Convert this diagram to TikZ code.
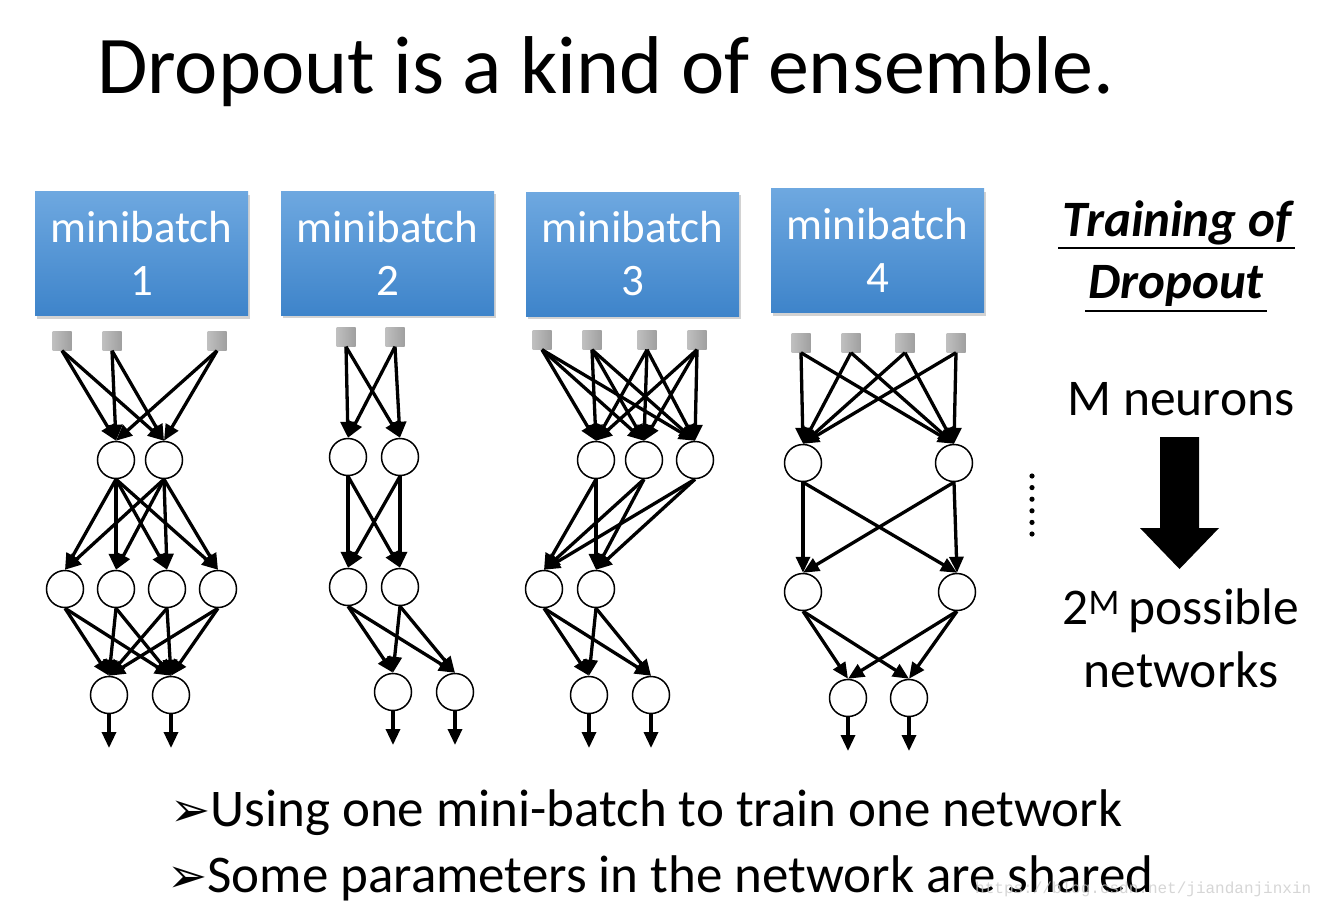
\documentclass[tikz,border=0pt]{standalone}
\usepackage{fontspec}
\setmainfont{Carlito}
\newfontfamily\dejavu{DejaVu Sans}
\newfontfamily\wmfont{Liberation Mono}
\usetikzlibrary{arrows.meta,shadows}
\definecolor{mbtop}{RGB}{110,168,224}
\definecolor{mbbottom}{RGB}{62,132,202}

\begin{document}
\begin{tikzpicture}[x=1pt, y=-1pt,
    mbox/.style={rectangle, top color=mbtop, bottom color=mbbottom, draw=none,
                 minimum width=213pt, minimum height=124pt, text=white, align=center,
                 font=\fontsize{45}{53}\selectfont,
                 drop shadow={opacity=0.35, shadow xshift=2pt, shadow yshift=-3pt}},
    inpt/.style={rectangle, minimum size=19pt, inner sep=0pt,
                 left color=gray!50, right color=gray!75},
    neuron/.style={circle, draw, line width=1.5pt, fill=white,
                   minimum size=37pt, inner sep=0pt},
    link/.style={line width=3.3pt, -{Triangle[length=16pt,width=14pt]}},
    bigtxt/.style={anchor=base, inner sep=0pt, font=\fontsize{51.5}{60}\selectfont},
    bul/.style={anchor=base west, inner sep=0pt, font=\fontsize{53}{62}\selectfont}]
\useasboundingbox[fill=white] (0,0) rectangle (1323,908);
% title
\node[anchor=base west, inner sep=0pt, font=\fontsize{82}{97}\selectfont] (title) at (97,93) {Dropout is a kind of ensemble.};
% minibatch boxes
\node[mbox] (mb1) at (141.5,253.5) {minibatch\\1};
\node[mbox] (mb2) at (387.5,253) {minibatch\\2};
\node[mbox] (mb3) at (632.5,254) {minibatch\\3};
\node[mbox] (mb4) at (877.5,250.5) {minibatch\\4};
% network 1
\node[inpt] (n1i1) at (62,341) {};
\node[inpt] (n1i2) at (112,341) {};
\node[inpt] (n1i3) at (217,341) {};
\node[neuron] (n1h1) at (116,460) {};
\node[neuron] (n1h2) at (164,460) {};
\node[neuron] (n1g1) at (65,589) {};
\node[neuron] (n1g2) at (116,589) {};
\node[neuron] (n1g3) at (167,589) {};
\node[neuron] (n1g4) at (218,589) {};
\node[neuron] (n1o1) at (109,695) {};
\node[neuron] (n1o2) at (171,695) {};
\coordinate (n1e1) at (109,748);
\coordinate (n1e2) at (171,748);
\foreach \a in {1,2,3} \foreach \b in {1,2} \draw[link] (n1i\a.south) -- (n1h\b.north);
\foreach \a in {1,2} \foreach \b in {1,...,4} \draw[link] (n1h\a.south) -- (n1g\b.north);
\foreach \a in {1,...,4} \foreach \b in {1,2} \draw[link] (n1g\a.south) -- (n1o\b.north);
\foreach \a in {1,2} \draw[link] (n1o\a.south) -- (n1e\a);
% network 2
\node[inpt] (n2i1) at (346,337) {};
\node[inpt] (n2i2) at (395,337) {};
\node[neuron] (n2h1) at (348,457) {};
\node[neuron] (n2h2) at (400,457) {};
\node[neuron] (n2g1) at (348,587) {};
\node[neuron] (n2g2) at (400,587) {};
\node[neuron] (n2o1) at (393,692) {};
\node[neuron] (n2o2) at (455,692) {};
\coordinate (n2e1) at (393,745);
\coordinate (n2e2) at (455,745);
\foreach \a in {1,2} \foreach \b in {1,2} \draw[link] (n2i\a.south) -- (n2h\b.north);
\foreach \a in {1,2} \foreach \b in {1,2} \draw[link] (n2h\a.south) -- (n2g\b.north);
\foreach \a in {1,2} \foreach \b in {1,2} \draw[link] (n2g\a.south) -- (n2o\b.north);
\foreach \a in {1,2} \draw[link] (n2o\a.south) -- (n2e\a);
% network 3
\node[inpt] (n3i1) at (542,340) {};
\node[inpt] (n3i2) at (592,340) {};
\node[inpt] (n3i3) at (647,340) {};
\node[inpt] (n3i4) at (697,340) {};
\node[neuron] (n3h1) at (596,460) {};
\node[neuron] (n3h2) at (644,460) {};
\node[neuron] (n3h3) at (695,460) {};
\node[neuron] (n3g1) at (544,589) {};
\node[neuron] (n3g2) at (596,589) {};
\node[neuron] (n3o1) at (589,695) {};
\node[neuron] (n3o2) at (651,695) {};
\coordinate (n3e1) at (589,748);
\coordinate (n3e2) at (651,748);
\foreach \a in {1,...,4} \foreach \b in {1,2,3} \draw[link] (n3i\a.south) -- (n3h\b.north);
\foreach \a in {1,2,3} \foreach \b in {1,2} \draw[link] (n3h\a.south) -- (n3g\b.north);
\foreach \a in {1,2} \foreach \b in {1,2} \draw[link] (n3g\a.south) -- (n3o\b.north);
\foreach \a in {1,2} \draw[link] (n3o\a.south) -- (n3e\a);
% network 4
\node[inpt] (n4i1) at (801,343) {};
\node[inpt] (n4i2) at (851,343) {};
\node[inpt] (n4i3) at (905,343) {};
\node[inpt] (n4i4) at (956,343) {};
\node[neuron] (n4h1) at (803,463) {};
\node[neuron] (n4h2) at (954,463) {};
\node[neuron] (n4g1) at (803,592) {};
\node[neuron] (n4g2) at (957,592) {};
\node[neuron] (n4o1) at (848,698) {};
\node[neuron] (n4o2) at (909,698) {};
\coordinate (n4e1) at (848,751);
\coordinate (n4e2) at (909,751);
\foreach \a in {1,...,4} \foreach \b in {1,2} \draw[link] (n4i\a.south) -- (n4h\b.north);
\foreach \a in {1,2} \foreach \b in {1,2} \draw[link] (n4h\a.south) -- (n4g\b.north);
\foreach \a in {1,2} \foreach \b in {1,2} \draw[link] (n4g\a.south) -- (n4o\b.north);
\foreach \a in {1,2} \draw[link] (n4o\a.south) -- (n4e\a);
% vertical dots
\foreach \k in {0,...,5} \fill (1032,476+11.6*\k) circle (2.6);
% right column
\node[anchor=base, inner sep=0pt, font=\bfseries\itshape\fontsize{51}{60}\selectfont] (trn) at (1177,236) {Training of};
\node[anchor=base, inner sep=0pt, font=\bfseries\itshape\fontsize{51}{60}\selectfont] (drp) at (1176,298) {Dropout};
\draw[line width=2pt] (1058,248) -- (1295,248);
\draw[line width=2pt] (1085,311) -- (1267,311);
\node[bigtxt] (mneu) at (1181,415) {M neurons};
\fill (1160,437) -- (1199,437) -- (1199,528) -- (1219,528) -- (1179.5,569) -- (1140,528) -- (1160,528) -- cycle;
\node[bigtxt] (poss) at (1181,624) {2\textsuperscript{M}\,possible};
\node[bigtxt] (nets) at (1181,687) {networks};
% bullets
\node[bul] (b1) at (170,826) {{\dejavu\fontsize{48}{50}\selectfont ➢}Using one mini-batch to train one network};
\node[bul] (b2) at (167,892) {{\dejavu\fontsize{48}{50}\selectfont ➢}Some parameters in the network are shared};
% watermark
\node[anchor=base west, inner sep=0pt, text=gray!40, opacity=0.8, font=\wmfont\fontsize{16}{18}\selectfont] (wm) at (975,893) {https://blog.csdn.net/jiandanjinxin};
\end{tikzpicture}
\end{document}
